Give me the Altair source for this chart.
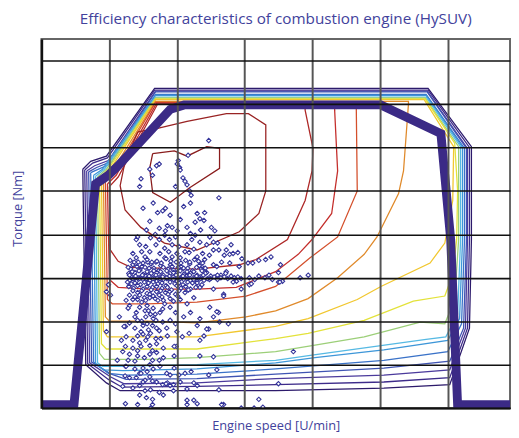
import altair as alt
import pandas as pd

# ---------------- data (engine speed in rpm, torque in Nm) ----------------
full_load_rpm = [0, 480, 799, 988, 1133, 1903, 2107, 5013, 5899, 6044, 6146, 6920]
full_load_nm = [4, 4, 258, 268, 279, 344, 349, 349, 316, 194, 4, 4]

level_names = ["k0", "k1", "k2", "k3", "k4", "k5", "k6", "k7", "k8", "k9",
               "orange", "r1", "r2", "r3", "c2", "c1"]
level_colors = ["#2c1a6b", "#3d2b8a", "#4b3a9c", "#3f54b3", "#3a72c8", "#3d96d8",
                "#56b9e3", "#9ccf78", "#e3e23a", "#f1c72f", "#e08a2b", "#d4502c",
                "#c42f2c", "#ae2827", "#992323", "#8a1d1d"]

k0_rpm = [610, 654, 959, 1162, 2296, 3458, 5056, 6030, 6321, 6350, 6350, 5710, 1671, 959, 727, 610]
k0_nm = [275, 50, 29, 20, 20, 20, 23, 27, 92, 194, 301, 368, 368, 290, 284, 275]
k1_rpm = [639, 683, 988, 1191, 2296, 3458, 5056, 6030, 6292, 6321, 6321, 5710, 1671, 974, 756, 639]
k1_nm = [274, 51, 33, 24, 25, 27, 30, 35, 92, 194, 300, 366, 366, 288, 282, 274]
k2_rpm = [668, 712, 1017, 1221, 2296, 3458, 5056, 6030, 6262, 6292, 6292, 5696, 1685, 988, 785, 668]
k2_nm = [273, 52, 36, 28, 29, 34, 38, 44, 92, 194, 299, 365, 365, 285, 279, 273]
k3_rpm = [697, 741, 1032, 1250, 2296, 3458, 5056, 6030, 6234, 6277, 6277, 5696, 1685, 1003, 814, 697]
k3_nm = [272, 53, 39, 33, 34, 39, 46, 54, 92, 194, 299, 364, 364, 283, 277, 272]
k4_rpm = [727, 770, 988, 1250, 2296, 3458, 5056, 6001, 6204, 6248, 6248, 5681, 1685, 1017, 843, 727]
k4_nm = [271, 53, 40, 38, 39, 45, 55, 65, 97, 194, 299, 361, 361, 281, 275, 271]
k5_rpm = [770, 799, 915, 1206, 2296, 3458, 4039, 5056, 6001, 6175, 6219, 6219, 5681, 1685, 901, 770]
k5_nm = [268, 51, 44, 43, 45, 52, 58, 67, 78, 103, 194, 300, 360, 360, 275, 268]
k6_rpm = [799, 828, 901, 1133, 2296, 3458, 3996, 5013, 5681, 5972, 6146, 6190, 6190, 5681, 1685, 930, 799]
k6_nm = [267, 52, 48, 48, 50, 55, 61, 72, 79, 82, 108, 194, 301, 358, 358, 275, 267]
k7_rpm = [828, 857, 930, 1569, 2296, 3458, 3996, 4766, 5594, 5957, 6103, 6161, 6161, 5667, 1685, 959, 828]
k7_nm = [266, 63, 56, 56, 58, 65, 72, 82, 99, 97, 125, 194, 301, 357, 357, 275, 266]
k8_rpm = [857, 886, 959, 1569, 2296, 3458, 3938, 4766, 5492, 5957, 6074, 6132, 6146, 6103, 5667, 1685, 988, 857]
k8_nm = [265, 74, 68, 68, 68, 80, 86, 101, 123, 129, 154, 194, 250, 305, 356, 356, 275, 265]
k9_rpm = [886, 915, 974, 1569, 2296, 3458, 3938, 4664, 5013, 5739, 5957, 6074, 6088, 5652, 1685, 1017, 886]
k9_nm = [264, 89, 82, 82, 82, 94, 103, 125, 140, 167, 190, 239, 301, 355, 355, 275, 264]
orange_rpm = [915, 944, 1003, 1569, 2296, 3022, 3458, 3938, 4374, 4766, 4955, 5274, 5347, 5420, 5420, 1685, 1046, 915]
orange_nm = [262, 105, 100, 100, 98, 105, 112, 126, 150, 177, 197, 247, 273, 350, 353, 353, 273, 262]
r1_rpm = [944, 974, 1046, 1569, 2296, 3022, 3458, 3967, 4374, 4664, 4650, 4650, 1685, 1075, 944]
r1_nm = [260, 125, 120, 120, 122, 129, 140, 173, 197, 250, 343, 352, 352, 271, 260]
r2_rpm = [974, 1003, 1133, 1569, 2296, 2877, 3458, 3792, 3996, 4286, 4374, 4330, 4330, 1700, 1104, 974]
r2_nm = [258, 148, 139, 137, 137, 139, 157, 177, 194, 224, 273, 343, 351, 351, 268, 258]
r3_rpm = [1003, 1017, 1133, 1322, 2296, 2921, 3168, 3633, 3894, 3996, 4010, 3894, 3894, 1715, 1133, 1003]
r3_nm = [255, 182, 169, 162, 160, 165, 171, 194, 239, 273, 299, 343, 350, 350, 266, 255]
c2_rpm = [1424, 1715, 2150, 2732, 3056, 3313, 3313, 3211, 2921, 2296, 1816, 1468, 1235, 1162, 1235, 1424]
c2_nm = [318, 322, 330, 339, 339, 326, 250, 224, 203, 182, 190, 208, 228, 256, 284, 318]
c1_rpm = [1642, 1598, 1642, 1903, 2194, 2630, 2630, 2441, 2150, 1962, 1642]
c1_nm = [293, 276, 248, 237, 254, 276, 299, 301, 290, 296, 293]

contour_rpm = [k0_rpm, k1_rpm, k2_rpm, k3_rpm, k4_rpm, k5_rpm, k6_rpm, k7_rpm, k8_rpm,
               k9_rpm, orange_rpm, r1_rpm, r2_rpm, r3_rpm, c2_rpm, c1_rpm]
contour_nm = [k0_nm, k1_nm, k2_nm, k3_nm, k4_nm, k5_nm, k6_nm, k7_nm, k8_nm,
              k9_nm, orange_nm, r1_nm, r2_nm, r3_nm, c2_nm, c1_nm]

# operating points (rpm, Nm)
op_upper = [
    (2470, 308), (2165, 291), (2020, 285), (2005, 281), (2040, 277), (1700, 279), (1740, 281),
    (1600, 275), (1640, 268), (1470, 264), (1450, 255), (2050, 274), (2090, 265), (2120, 261),
    (2150, 257), (2190, 250), (2210, 245), (1980, 255), (2620, 242),
    (1790, 227), (1830, 230), (1715, 225), (1600, 215), (1900, 222), (2050, 217), (1860, 210),
    (1830, 204), (1740, 207), (1930, 208), (2005, 204), (2150, 208), (2300, 224), (2340, 218),
    (2410, 225), (2270, 214), (2400, 216), (2510, 208), (2200, 201), (2270, 199), (2485, 197),
    (2560, 204), (1980, 197), (1890, 194), (1820, 199), (1740, 194), (1610, 196), (1420, 197),
    (1400, 194), (1450, 188), (1540, 186), (1690, 188), (1820, 184), (1930, 188), (2030, 186),
    (2150, 188), (2220, 194), (2340, 191), (2440, 188), (2540, 191), (2620, 182), (2730, 182),
    (2800, 188), (2780, 177), (2900, 179), (3050, 167), (2660, 168), (2540, 165), (1400, 173),
    (1530, 174), (1570, 168), (1690, 168), (1820, 173), (1930, 174), (2050, 173), (2180, 179),
    (2300, 174), (2410, 171),
    (1500, 230), (1650, 236), (2100, 232), (2200, 236), (1550, 205), (1680, 200), (2350, 205),
    (1480, 180), (1600, 180), (1750, 178), (1880, 180), (2000, 178), (2120, 180), (2250, 183),
    (2380, 178), (2480, 176), (1350, 178), (2600, 190),
]
op_tail = [
    (2540, 182), (2700, 176), (2830, 178), (2960, 172), (3120, 167), (3210, 170), (3310, 171),
    (3390, 174), (3530, 165), (2780, 167), (2590, 163), (2440, 156), (2730, 157), (2850, 150),
    (3070, 150), (3210, 152), (3410, 148), (3560, 146), (2880, 146), (3070, 142), (2480, 148),
    (2340, 139), (2540, 137), (2690, 131), (2400, 161), (2590, 152), (2650, 153), (2720, 155),
    (2830, 145), (2920, 163), (3100, 143), (3360, 153), (3500, 145), (3500, 156), (3520, 145),
    (3820, 150), (3940, 153), (2950, 137), (2690, 129),
]
op_core = [
    (1310, 170), (1430, 168), (1560, 171), (1705, 169), (1840, 172), (1990, 168), (2130, 170),
    (2260, 171), (2380, 167), (1350, 165), (1485, 163), (1620, 166), (1760, 164), (1905, 165),
    (2060, 163), (2190, 166), (2330, 164), (1320, 160), (1455, 159), (1590, 161), (1730, 158),
    (1870, 160), (1950, 159), (2100, 161), (2230, 158), (2360, 160), (1290, 155), (1380, 156),
    (1500, 154), (1620, 155), (1700, 156), (1800, 153), (1900, 155), (2000, 156), (2100, 154),
    (2200, 155), (2300, 153), (2420, 155), (1340, 151), (1440, 150), (1540, 152), (1650, 150),
    (1750, 151), (1850, 149), (1950, 151), (2050, 150), (2150, 152), (2250, 150), (2350, 151),
    (2450, 149), (2550, 151), (2650, 150), (1300, 147), (1400, 146), (1500, 148), (1600, 147),
    (1700, 146), (1800, 148), (1900, 147), (2000, 146), (2100, 148), (2200, 147), (2300, 146),
    (2400, 147), (1330, 143), (1460, 142), (1580, 144), (1720, 143), (1840, 141), (1970, 143),
    (2090, 142), (2230, 144), (2370, 142), (1360, 138), (1500, 137), (1640, 139), (1780, 138),
    (1920, 136), (2060, 138), (2200, 137), (1420, 133), (1560, 132), (1700, 134), (1830, 133),
    (1980, 131), (2120, 133), (1380, 128), (1520, 127), (1650, 129), (1780, 128), (1900, 126),
    (1370, 168), (1500, 167), (1630, 168), (1770, 167), (1910, 169), (2060, 167), (2190, 168),
    (2320, 169), (1280, 162), (1410, 163), (1530, 162), (1660, 161), (1800, 162), (1930, 163),
    (2020, 162), (2160, 161), (2290, 162), (2420, 161), (1340, 157), (1440, 158), (1560, 157),
    (1660, 158), (1760, 157), (1850, 158), (1950, 156), (2050, 158), (2150, 157), (2250, 157),
    (2370, 158), (1300, 153), (1390, 152), (1490, 153), (1590, 152), (1690, 153), (1790, 151),
    (1890, 152), (1990, 153), (2090, 152), (2190, 153), (2290, 152), (2390, 153), (2500, 152),
    (2600, 153), (2700, 151), (2800, 152), (2900, 151), (1350, 149), (1450, 149), (1550, 149),
    (1650, 148), (1750, 149), (1850, 150), (1950, 148), (2050, 149), (2150, 149), (2250, 148),
    (2350, 149), (2500, 149), (2600, 148), (2750, 149), (2950, 149), (3150, 148), (3300, 150),
    (1270, 145), (1380, 144), (1520, 145), (1650, 145), (1780, 144), (1900, 145), (2030, 144),
    (2160, 145), (2300, 144), (1290, 140), (1420, 141), (1560, 140), (1700, 140), (1860, 139),
    (2000, 141), (2130, 140), (2280, 139), (1350, 135), (1480, 135), (1620, 136), (1760, 135),
    (1890, 134), (2030, 135), (2170, 136), (1300, 130), (1450, 130), (1600, 131), (1740, 130),
    (1870, 131), (2010, 129), (1250, 124), (1420, 125), (1540, 124), (1680, 126), (1800, 124),
    (1950, 123),
]
op_lower = [
    (1350, 125), (1480, 122), (1600, 127), (1720, 124), (1820, 120), (1400, 110), (1560, 118),
    (1650, 115), (1750, 110), (1300, 118), (2050, 125), (2150, 120), (2250, 127), (2100, 105),
    (2000, 88), (1850, 92), (1700, 92), (1580, 90),
    (2485, 116), (2615, 110), (2540, 105), (2470, 91), (2400, 83), (2180, 86), (2340, 103),
    (2200, 110), (2300, 95), (2080, 82), (2590, 111), (2630, 99), (2760, 97), (2440, 91),
    (2340, 78), (1020, 130), (1540, 105), (1610, 108), (1690, 101), (1790, 99), (1900, 101),
    (1980, 97), (1530, 112), (1450, 116), (1790, 114), (1900, 116), (1980, 110), (1420, 101),
    (1500, 95), (1640, 95), (1740, 89), (1240, 94), (1220, 94), (960, 88), (990, 142), (960, 134),
    (1470, 88), (1420, 83), (1570, 82), (1610, 86), (1690, 80), (1760, 80), (1860, 83), (1540, 78),
    (1990, 71), (1800, 69), (1640, 66), (1470, 71), (1350, 69), (1960, 71), (1240, 71), (1380, 54),
    (1420, 60), (1640, 55), (1740, 55), (1600, 50), (1500, 46), (1450, 40), (1240, 48), (1250, 48),
    (1530, 32), (1640, 31), (1960, 60), (1960, 46), (2030, 38), (2120, 40), (2250, 29), (2300, 26),
    (2210, 42), (2340, 60), (2540, 59), (2590, 44), (2470, 38), (3720, 65), (1860, 29),
    (1790, 27), (1840, 28), (1900, 26), (1950, 27), (1610, 21), (1740, 18), (1400, 35), (1350, 23),
    (1530, 20), (1640, 10), (1470, 40), (1450, 26), (1235, 37),
    (1280, 115), (1380, 105), (1480, 100), (1580, 112), (1680, 108), (1300, 98), (1380, 92),
    (1500, 85), (1560, 97), (1650, 103), (1250, 82), (1350, 78), (1450, 75), (1600, 72),
    (1700, 74), (1200, 65), (1300, 62), (1420, 66), (1520, 58), (1600, 62), (1700, 64), (1800, 58),
    (1280, 55), (1380, 45), (1560, 42), (1650, 45), (1750, 48), (1850, 40), (1300, 35), (1500, 30),
    (1600, 36), (1700, 30), (1900, 38), (1200, 25), (1450, 15), (1550, 12), (1800, 15), (1950, 20),
    (2050, 30), (2150, 22), (1150, 105), (1180, 78), (1120, 55),
    (1240, 5), (1420, 4), (1640, 4), (2150, 4), (2250, 9), (2300, 5), (2690, 4), (3210, 10),
    (2660, 4), (2950, 0), (3140, 0), (3270, 1), (2620, 21), (3500, 28), (1610, 0), (2150, 9),
]

# ---------------- tables ----------------
rows = []
for name, xs, ys in zip(level_names, contour_rpm, contour_nm):
    for i, (x, y) in enumerate(zip(xs, ys)):
        rows.append({"level": name, "seq": i, "rpm": x, "nm": y})
contour_df = pd.DataFrame(rows)
full_df = pd.DataFrame({"rpm": full_load_rpm, "nm": full_load_nm, "seq": range(len(full_load_rpm))})
pts_df = pd.DataFrame(op_upper + op_tail + op_core + op_lower, columns=["rpm", "nm"])

TXT = "#42429c"
FONT = "Open Sans"

xscale = alt.Scale(domain=[0, 6920], nice=False, zero=False)
yscale = alt.Scale(domain=[0, 425], nice=False, zero=False)
xaxis = alt.Axis(values=[0, 1000, 2000, 3000, 4000, 5000, 6000], labels=False, ticks=False,
                 grid=True, gridColor="#555555", gridWidth=2, gridOpacity=1,
                 domain=True, domainColor="#111111", domainWidth=2,
                 title="Engine speed [U/min]", titleFont=FONT, titleFontSize=13,
                 titleFontWeight="normal", titleColor=TXT, titlePadding=12, zindex=1)
yaxis = alt.Axis(values=[0, 50, 100, 150, 200, 250, 300, 350, 400], labels=False, ticks=False,
                 grid=True, gridColor="#111111", gridWidth=1.6, gridOpacity=1,
                 domain=True, domainColor="#111111", domainWidth=2.5,
                 title="Torque [Nm]", titleFont=FONT, titleFontSize=13, titleY=172,
                 titleFontWeight="normal", titleColor=TXT, titlePadding=17, zindex=1)

X = alt.X("rpm:Q", scale=xscale, axis=xaxis)
Y = alt.Y("nm:Q", scale=yscale, axis=yaxis)

contours = alt.Chart(contour_df).mark_line(strokeWidth=1.3, clip=True).encode(
    x=X, y=Y,
    color=alt.Color("level:N", scale=alt.Scale(domain=level_names, range=level_colors), legend=None),
    detail="level:N",
    order="seq:Q",
)

full_load = alt.Chart(full_df).mark_line(strokeWidth=9, color="#3b2a86", clip=True,
                                         strokeJoin="miter").encode(
    x=X, y=Y, order="seq:Q"
)

points = alt.Chart(pts_df).mark_point(shape="diamond", size=20, filled=True, fill="white",
                                      stroke="#34349a", strokeWidth=1.1, opacity=1, clip=True).encode(
    x=X, y=Y
)

chart = alt.layer(contours, full_load, points).properties(
    width=476, height=375,
    autosize="none",
    padding={"left": 34, "top": 28, "right": 1, "bottom": 27},
    title=alt.TitleParams("Efficiency characteristics of combustion engine (HySUV)", font=FONT,
                          fontSize=15.5, fontWeight="normal", color=TXT, anchor="middle", offset=12),
).configure_view(stroke="#666666", strokeWidth=2)

chart.save("out.html", embed_options={"renderer": "svg", "actions": False})
